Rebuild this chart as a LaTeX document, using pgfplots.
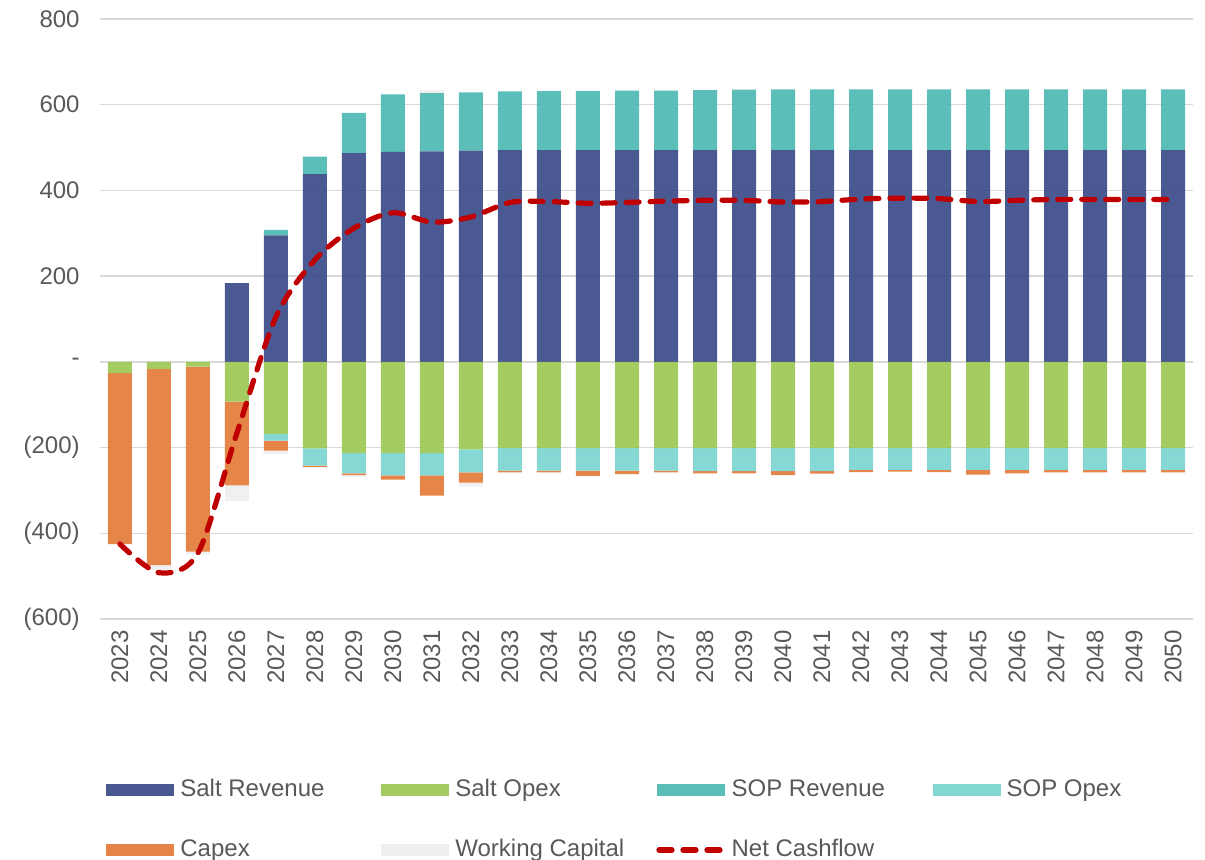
\documentclass[12pt,border=0pt]{standalone}
\usepackage{fontspec}
\setmainfont{Liberation Sans}
\usepackage{pgfplots}
\usepackage{pgfplotstable}
\pgfplotsset{compat=1.18}

\definecolor{saltrev}{HTML}{40508C}
\definecolor{saltopex}{HTML}{9FC957}
\definecolor{soprev}{HTML}{52BAB5}
\definecolor{sopopex}{HTML}{7ED6D2}
\definecolor{capex}{HTML}{E57E3E}
\definecolor{wcap}{HTML}{EEEFEE}
\definecolor{netcf}{HTML}{C00000}
\definecolor{gridgray}{HTML}{D9D9D9}
\definecolor{labelgray}{HTML}{595959}

% positive and negative parts are stacked separately (two overlaid axes)
\pgfplotstableread{
year saltrev soprev wcpos saltopex sopopex capex wcneg net
2023 0   0   0 -26  0   -399 0   -425
2024 0   0   0 -17  0   -457 -12 -492
2025 0   0   0 -11  0   -432 -6  -446
2026 184 0   0 -93  0   -195 -37 -166
2027 295 13  0 -168 -16 -23  -8  105
2028 438 41  0 -202 -40 -3   -2  238
2029 487 94  0 -213 -47 -4   -4  312
2030 490 134 0 -213 -52 -10  0   348
2031 491 136 8 -213 -52 -47  0   326
2032 493 136 0 -204 -54 -24  -9  338
2033 494 137 0 -201 -53 -4   0   372
2034 494 138 0 -201 -53 -4   0   374
2035 494 138 0 -201 -53 -12  0   370
2036 494 139 0 -201 -53 -8   0   372
2037 494 139 0 -201 -53 -4   0   375
2038 494 140 0 -201 -54 -5   0   377
2039 494 141 0 -201 -54 -5   0   377
2040 494 142 0 -201 -54 -9   0   373
2041 494 142 0 -201 -54 -6   0   374
2042 494 142 0 -201 -51 -5   0   380
2043 494 142 0 -201 -51 -4   0   382
2044 494 142 0 -201 -51 -5   0   381
2045 494 142 0 -201 -51 -11  0   374
2046 494 142 0 -201 -51 -8   0   377
2047 494 142 0 -201 -51 -6   0   379
2048 494 142 0 -201 -51 -6   0   379
2049 494 142 0 -201 -51 -6   0   379
2050 494 142 0 -201 -51 -6   0   379
}\cashdata

\pgfplotsset{
    barleg/.style={legend image code/.code={\fill[##1] (0pt,-3pt) rectangle (34pt,3pt);}},
    lineleg/.style={legend image code/.code={\draw[##1] (1pt,0pt) -- (33pt,0pt);}},
    base/.style={
        at={(0,0)}, anchor=south west,
        width=546.5pt, height=300pt, scale only axis,
        xmin=2022.49, xmax=2050.51,
        ymin=-600, ymax=800,
    },
    bars/.style={
        ybar stacked, bar width=12pt,
        every axis plot/.append style={draw=none, fill opacity=0.95},
    },
    netline/.style={draw=netcf, line width=2.6pt, line cap=round,
        dash pattern=on 6.5pt off 5.5pt},
}
\newcommand{\lgtext}[1]{\hspace{1pt}\makebox[98.5pt][l]{#1}}

\begin{document}
\begin{tikzpicture}
\useasboundingbox (-50pt,-120pt) rectangle (552.5pt,309.5pt);
% axis 1: ticks, grid, legend, positive stack
\begin{axis}[
    base, bars,
    xtick={2023,...,2050},
    ytick={-600,-400,...,800},
    yticklabels={(600),(400),(200),-,200,400,600,800},
    /pgf/number format/1000 sep={},
    /pgf/number format/assume math mode=true,
    major tick length=0pt,
    axis line style={draw=none},
    ymajorgrids, grid style={gridgray, line width=0.75pt},
    tick label style={font=\normalsize, text=labelgray, inner sep=0pt},
    xticklabel style={rotate=90, anchor=east},
    xticklabel shift=5.5pt,
    yticklabel shift=10pt,
    legend columns=4,
    legend style={at={(0,0)}, anchor=north west, xshift=3pt, yshift=-78pt,
        draw=none, inner sep=0pt, row sep=15.5pt, font=\normalsize, text=labelgray},
]
\addplot[fill=saltrev, forget plot] table[x=year, y=saltrev] {\cashdata};
\addplot[fill=soprev, forget plot] table[x=year, y=soprev] {\cashdata};
\addplot[fill=wcap, forget plot] table[x=year, y=wcpos] {\cashdata};

\addlegendimage{barleg, fill=saltrev}
\addlegendentry{\lgtext{Salt Revenue}}
\addlegendimage{barleg, fill=saltopex}
\addlegendentry{\lgtext{Salt Opex}}
\addlegendimage{barleg, fill=soprev}
\addlegendentry{\lgtext{SOP Revenue}}
\addlegendimage{barleg, fill=sopopex}
\addlegendentry{\lgtext{SOP Opex}}
\addlegendimage{barleg, fill=capex}
\addlegendentry{\lgtext{Capex}}
\addlegendimage{barleg, fill=wcap}
\addlegendentry{\lgtext{Working Capital}}
\addlegendimage{lineleg, netline}
\addlegendentry{\lgtext{Net Cashflow}}
\end{axis}
% axis 2: negative stack
\begin{axis}[base, bars, hide axis]
\addplot[fill=saltopex] table[x=year, y=saltopex] {\cashdata};
\addplot[fill=sopopex] table[x=year, y=sopopex] {\cashdata};
\addplot[fill=capex] table[x=year, y=capex] {\cashdata};
\addplot[fill=wcap] table[x=year, y=wcneg] {\cashdata};
\end{axis}
% axis 3: net cashflow line
\begin{axis}[base, hide axis]
\addplot[smooth, netline, mark=none] table[x=year, y=net] {\cashdata};
\end{axis}
\end{tikzpicture}
\end{document}
